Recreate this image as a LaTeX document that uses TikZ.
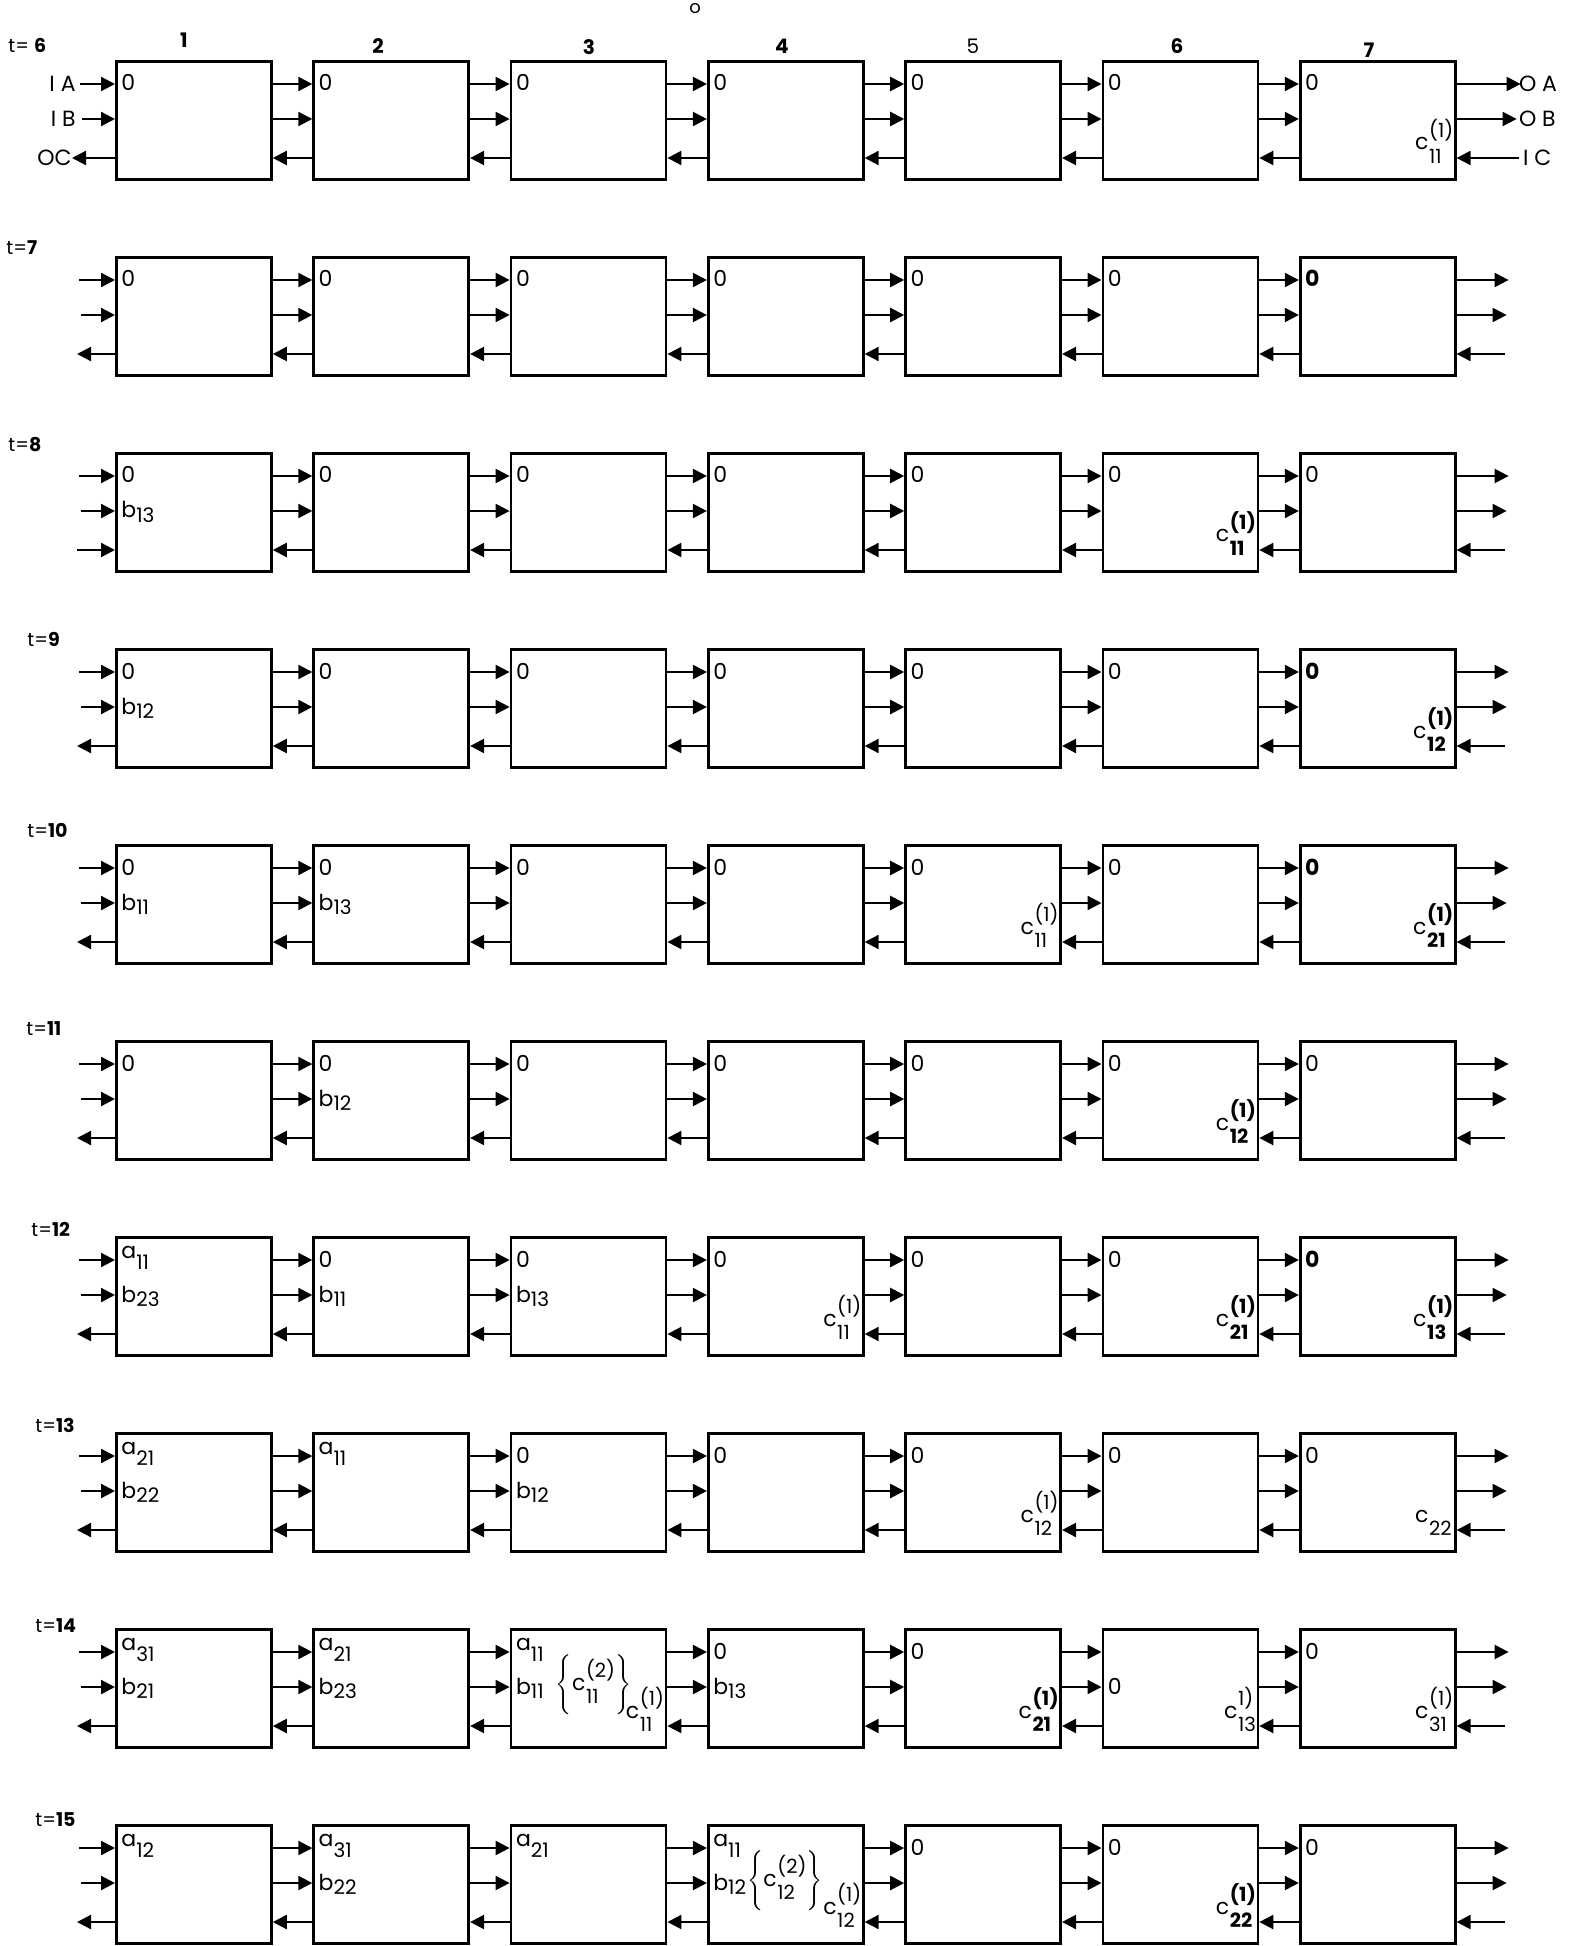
\documentclass[tikz,border=0pt]{standalone}
\usepackage{fontspec}
\setmainfont{Poppins}
\usetikzlibrary{arrows.meta,calc}
\newcommand\asub[1]{\raisebox{4.5pt}{a}\raisebox{-1pt}{\fontsize{10}{12}\selectfont #1}}
\newcommand\bsub[1]{b\raisebox{-2pt}{\fontsize{10}{12}\selectfont #1}}
\newcommand\cstack[3][]{c\kern0.3pt{\fontsize{9.8}{13}\selectfont#1\begin{tabular}[c]{@{}l@{}}#2\\#3\end{tabular}}}
\newcommand\LA[3]{\node[txt,anchor=base west] (la#1-#2) at ($(n#1-#2.north west)+(6,31)$) {#3};}
\newcommand\LB[3]{\node[txt,anchor=base west] (lb#1-#2) at ($(n#1-#2.north west)+(6,66)$) {#3};}
\newcommand\LC[3]{\node[txt,anchor=east] (lc#1-#2) at ($(n#1-#2.north east)+(-3,85)$) {#3};}
\tikzset{
  cell/.style={draw,line width=1.4pt,minimum width=77.5pt,minimum height=59pt,inner sep=0pt,anchor=north west},
  arr/.style={line width=1.1pt,-{Triangle[length=7pt,width=7pt]}},
  txt/.style={inner sep=0pt,font=\fontsize{11}{13}\selectfont},
  rl/.style={inner sep=0pt,anchor=west,font=\fontsize{9.5}{12}\selectfont},
  hd/.style={inner sep=0pt,font=\fontsize{10}{12}\selectfont\bfseries},
}
\begin{document}
\begin{tikzpicture}[x=0.5pt,y=-0.5pt]
\useasboundingbox (0,0) rectangle (1572,1946);
% boxes
\foreach \r in {0,...,9}{
  \pgfmathsetmacro\yy{60+196*\r}
  \foreach \c in {1,...,7}{
    \pgfmathsetmacro\xx{115+197.3*(\c-1)}
    \node[cell] (n\r-\c) at (\xx,\yy) {};
  }
}
% connectors between boxes
\foreach \r in {0,...,9}{
  \foreach \c [evaluate=\c as \d using int(\c+1)] in {1,...,6}{
    \draw[arr] ($(n\r-\c.north east)+(0,24)$) -- ($(n\r-\d.north west)+(0,24)$);
    \draw[arr] ($(n\r-\c.north east)+(0,59)$) -- ($(n\r-\d.north west)+(0,59)$);
    \draw[arr] ($(n\r-\d.north west)+(0,98)$) -- ($(n\r-\c.north east)+(0,98)$);
  }
}
% inputs and outputs
\foreach \r in {1,...,9}{
  \coordinate (inA\r) at ($(n\r-1.north west)+(-36,24)$);
  \coordinate (inB\r) at ($(n\r-1.north west)+(-34,59)$);
  \coordinate (inC\r) at ($(n\r-1.north west)+(-38,98)$);
  \coordinate (outA\r) at ($(n\r-7.north east)+(52,24)$);
  \coordinate (outB\r) at ($(n\r-7.north east)+(50,59)$);
  \coordinate (outC\r) at ($(n\r-7.north east)+(48,98)$);
  \draw[arr] (inA\r) -- ($(n\r-1.north west)+(0,24)$);
  \draw[arr] (inB\r) -- ($(n\r-1.north west)+(0,59)$);
  \draw[arr] ($(n\r-7.north east)+(0,24)$) -- (outA\r);
  \draw[arr] ($(n\r-7.north east)+(0,59)$) -- (outB\r);
  \draw[arr] (outC\r) -- ($(n\r-7.north east)+(0,98)$);
}
\foreach \r in {1,3,4,5,6,7,8,9}{
  \draw[arr] ($(n\r-1.north west)+(0,98)$) -- (inC\r);
}
\draw[arr] (inC2) -- ($(n2-1.north west)+(0,98)$);
% row t=6 inputs/outputs with labels
\coordinate (inA0) at ($(n0-1.north west)+(-35,24)$);
\coordinate (inB0) at ($(n0-1.north west)+(-33,59)$);
\coordinate (inC0) at ($(n0-1.north west)+(-43,98)$);
\coordinate (outA0) at ($(n0-7.north east)+(64,24)$);
\coordinate (outB0) at ($(n0-7.north east)+(60,59)$);
\coordinate (outC0) at ($(n0-7.north east)+(62,98)$);
\draw[arr] (inA0) -- ($(n0-1.north west)+(0,24)$);
\draw[arr] (inB0) -- ($(n0-1.north west)+(0,59)$);
\draw[arr] ($(n0-1.north west)+(0,98)$) -- (inC0);
\draw[arr] ($(n0-7.north east)+(0,24)$) -- (outA0);
\draw[arr] ($(n0-7.north east)+(0,59)$) -- (outB0);
\draw[arr] (outC0) -- ($(n0-7.north east)+(0,98)$);
\node[txt,anchor=east] (lIA) at ($(inA0)+(-4,0)$) {I A};
\node[txt,anchor=east] (lIB) at ($(inB0)+(-6,0)$) {I B};
\node[txt,anchor=east] (lOC) at ($(inC0)+(0,0)$) {OC};
\node[txt,anchor=west] (lOA) at ($(outA0)+(-2,0)$) {O A};
\node[txt,anchor=west] (lOB) at ($(outB0)+(2,0)$) {O B};
\node[txt,anchor=west] (lIC) at ($(outC0)+(4,0)$) {I C};
% headings
\node[txt] (dot) at (695,9) {\fontsize{9}{10}\selectfont o};
\node[hd] (h1) at (184,40) {1};
\node[hd] (h2) at (378,46) {2};
\node[hd] (h3) at (589,47) {3};
\node[hd] (h4) at (782,46) {4};
\node[hd,font=\fontsize{10}{12}\selectfont] (h5) at (973,46) {5};
\node[hd] (h6) at (1177,46) {6};
\node[hd] (h7) at (1369,50) {7};
% row labels
\node[rl] (t0) at (8,45) {t= \textbf{6}};
\node[rl] (t1) at (6,248) {t=\textbf{7}};
\node[rl] (t2) at (8,445) {t=\textbf{8}};
\node[rl] (t3) at (27,639) {t=\textbf{9}};
\node[rl] (t4) at (27,830) {t=\textbf{10}};
\node[rl] (t5) at (26,1029) {t=\textbf{11}};
\node[rl] (t6) at (31,1229) {t=\textbf{12}};
\node[rl] (t7) at (35,1425) {t=\textbf{13}};
\node[rl] (t8) at (35,1626) {t=\textbf{14}};
\node[rl] (t9) at (35,1820) {t=\textbf{15}};
% t=6
\foreach \c in {1,...,7}{\LA{0}{\c}{0}}
\LC{0}{7}{\cstack{(1)}{11}}
% t=7
\foreach \c in {1,...,6}{\LA{1}{\c}{0}}
\LA{1}{7}{\textbf{0}}
% t=8
\foreach \c in {1,...,7}{\LA{2}{\c}{0}}
\LB{2}{1}{\bsub{13}}
\LC{2}{6}{\cstack[\bfseries]{(1)}{11}}
% t=9
\foreach \c in {1,...,6}{\LA{3}{\c}{0}}
\LA{3}{7}{\textbf{0}}
\LB{3}{1}{\bsub{12}}
\LC{3}{7}{\cstack[\bfseries]{(1)}{12}}
% t=10
\foreach \c in {1,...,6}{\LA{4}{\c}{0}}
\LA{4}{7}{\textbf{0}}
\LB{4}{1}{\bsub{11}}
\LB{4}{2}{\bsub{13}}
\LC{4}{5}{\cstack{(1)}{11}}
\LC{4}{7}{\cstack[\bfseries]{(1)}{21}}
% t=11
\foreach \c in {1,...,7}{\LA{5}{\c}{0}}
\LB{5}{2}{\bsub{12}}
\LC{5}{6}{\cstack[\bfseries]{(1)}{12}}
% t=12
\LA{6}{1}{\asub{11}}
\LB{6}{1}{\bsub{23}}
\LA{6}{2}{0}
\LB{6}{2}{\bsub{11}}
\LA{6}{3}{0}
\LB{6}{3}{\bsub{13}}
\LA{6}{4}{0}
\LC{6}{4}{\cstack{(1)}{11}}
\LA{6}{5}{0}
\LA{6}{6}{0}
\LC{6}{6}{\cstack[\bfseries]{(1)}{21}}
\LA{6}{7}{\textbf{0}}
\LC{6}{7}{\cstack[\bfseries]{(1)}{13}}
% t=13
\LA{7}{1}{\asub{21}}
\LB{7}{1}{\bsub{22}}
\LA{7}{2}{\asub{11}}
\LA{7}{3}{0}
\LB{7}{3}{\bsub{12}}
\LA{7}{4}{0}
\LA{7}{5}{0}
\LC{7}{5}{\cstack{(1)}{12}}
\LA{7}{6}{0}
\LA{7}{7}{0}
\LC{7}{7}{\cstack{\phantom{(1)}}{22}}
% t=14
\LA{8}{1}{\asub{31}}
\LB{8}{1}{\bsub{21}}
\LA{8}{2}{\asub{21}}
\LB{8}{2}{\bsub{23}}
\LA{8}{3}{\asub{11}}
\LB{8}{3}{\bsub{11}}
\node[txt] (g8-3) at ($(n8-3.north west)+(84,57)$) {$\Bigg\{\vcenter{\hbox{\cstack{(2)}{11}}}\Bigg\}$};
\LC{8}{3}{\cstack{(1)}{11}}
\LA{8}{4}{0}
\LB{8}{4}{\bsub{13}}
\LA{8}{5}{0}
\LC{8}{5}{\cstack[\bfseries]{(1)}{21}}
\LB{8}{6}{0}
\LC{8}{6}{\cstack{1)}{13}}
\LA{8}{7}{0}
\LC{8}{7}{\cstack{(1)}{31}}
% t=15
\LA{9}{1}{\asub{12}}
\LA{9}{2}{\asub{31}}
\LB{9}{2}{\bsub{22}}
\LA{9}{3}{\asub{21}}
\LA{9}{4}{\asub{11}}
\LB{9}{4}{\bsub{12}}
\node[txt] (g9-4) at ($(n9-4.north west)+(78,57)$) {$\Bigg\{\vcenter{\hbox{\cstack{(2)}{12}}}\Bigg\}$};
\LC{9}{4}{\cstack{(1)}{12}}
\LA{9}{5}{0}
\LA{9}{6}{0}
\LC{9}{6}{\cstack[\bfseries]{(1)}{22}}
\LA{9}{7}{0}
\end{tikzpicture}
\end{document}
